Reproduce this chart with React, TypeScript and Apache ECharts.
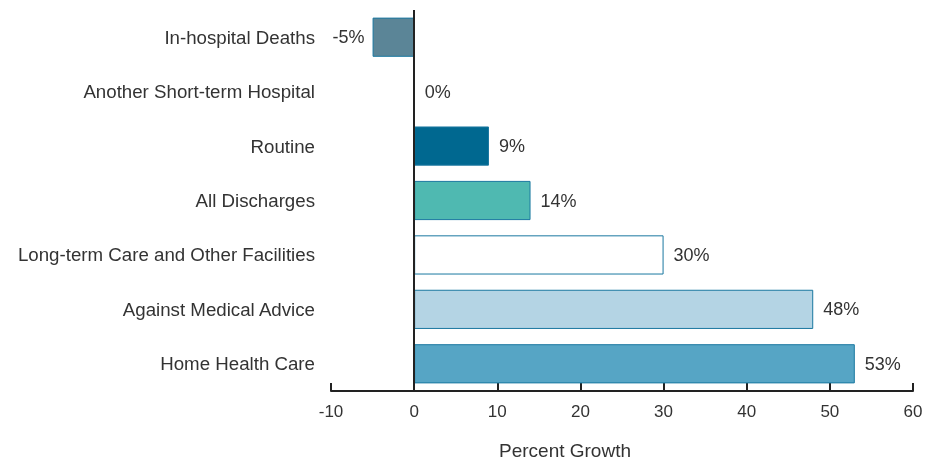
import React, { useEffect, useRef } from "react";
import * as echarts from "echarts";

const categories = [
  "In-hospital Deaths",
  "Another Short-term Hospital",
  "Routine",
  "All Discharges",
  "Long-term Care and Other Facilities",
  "Against Medical Advice",
  "Home Health Care",
];
const values = [-5, 0, 9, 14, 30, 48, 53];
const barColors = ["#5b8597", "#1a78a0", "#006890", "#4fb9b1", "#ffffff", "#b4d4e4", "#56a5c5"];
const xTicks = [-10, 0, 10, 20, 30, 40, 50, 60];

export default function App() {
  const ref = useRef<HTMLDivElement>(null);
  useEffect(() => {
    if (!ref.current) return;
    const chart = echarts.init(ref.current, undefined, { renderer: "svg" });
    const font = "'Liberation Sans', Arial, Helvetica, sans-serif";
    chart.setOption({
      animation: false,
      textStyle: { fontFamily: font },
      grid: {
        left: 331,
        right: 12,
        top: 10,
        height: 381,
        containLabel: false,
        outerBoundsMode: "none",
      },
      xAxis: {
        type: "value",
        min: xTicks[0],
        max: xTicks[xTicks.length - 1],
        interval: 10,
        name: "Percent Growth",
        nameLocation: "middle",
        nameGap: 50,
        nameTextStyle: {
          fontSize: 19,
          color: "#333",
          fontFamily: font,
          padding: [0, 114, 0, 0],
        },
        axisLine: { show: true, onZero: false, lineStyle: { color: "#222", width: 2 } },
        axisTick: { show: true, inside: true, length: 8, lineStyle: { color: "#222", width: 2 } },
        axisLabel: { fontSize: 17, color: "#333", margin: 12, fontFamily: font },
        splitLine: { show: false },
      },
      yAxis: {
        type: "category",
        data: categories,
        inverse: true,
        axisLine: { show: false },
        axisTick: { show: false },
        axisLabel: { fontSize: 18.7, color: "#333", margin: 16, fontFamily: font },
      },
      series: [
        {
          type: "bar",
          barCategoryGap: "28%",
          data: values.map((v, i) => ({
            value: v,
            itemStyle: { color: barColors[i], borderColor: "#1a78a0", borderWidth: 1 },
            label: {
              show: true,
              position: v < 0 ? "left" : "right",
              distance: v < 0 ? 8 : 10,
              formatter: v + "%",
              fontSize: 18,
              color: "#333",
              fontFamily: font,
            },
          })),
          markLine: {
            silent: true,
            symbol: "none",
            label: { show: false },
            lineStyle: { color: "#222", width: 2, type: "solid" },
            data: [{ xAxis: 0 }],
          },
        },
      ],
    });
    return () => chart.dispose();
  }, []);
  return (
    <div
      ref={ref}
      style={{ position: "fixed", left: 0, top: 0, width: 925, height: 460 }}
    />
  );
}
